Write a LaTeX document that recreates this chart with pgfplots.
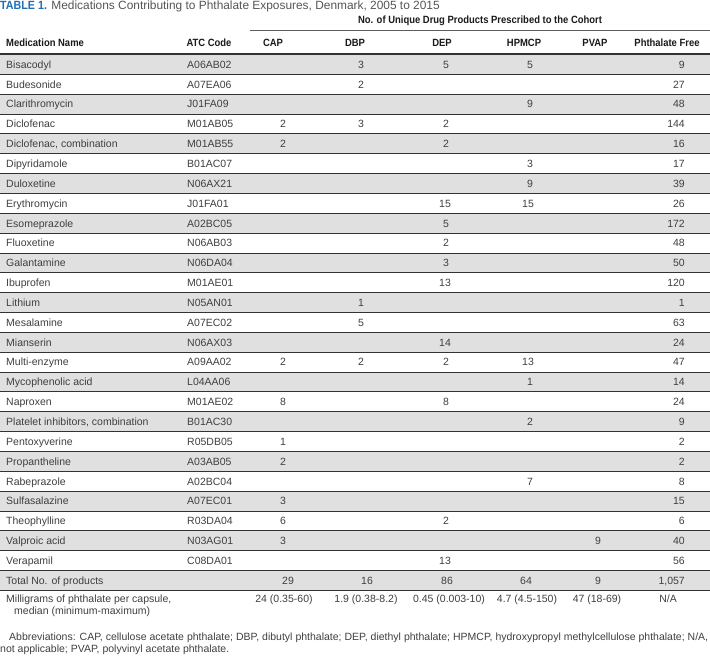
\documentclass[border=0pt]{standalone}
\usepackage{fontspec}
\setmainfont{Liberation Sans}
\newfontfamily\hdr{Liberation Sans}[FakeStretch=0.9]
\usepackage{pgfplots}
\pgfplotsset{compat=1.18}
\definecolor{txt}{HTML}{3F3F3F}
\definecolor{hd}{HTML}{1A1A1A}
\definecolor{band}{HTML}{E0E0E0}
\definecolor{rulec}{HTML}{333333}
\definecolor{tblue}{HTML}{1F6DB5}
\definecolor{ttl}{HTML}{555555}
\newcommand{\bodyfont}{\fontsize{10.5bp}{12bp}\selectfont}
\newcommand{\hdfont}{\hdr\bfseries\fontsize{10.5bp}{12bp}\selectfont}
\tikzset{cell/.style={font=\bodyfont, text=txt, inner sep=0pt, text height=7.6bp, text depth=0pt},
  hcell/.style={font=\hdfont, text=hd, inner sep=0pt, text height=7.6bp, text depth=0pt}}
\pgfplotsset{tab/.style={draw=none, mark=none, nodes near coords, point meta=explicit symbolic,
  every node near coord/.append style={cell, anchor=#1}}}
\begin{document}
\begin{tikzpicture}
\begin{axis}[width=710bp, height=658bp, scale only axis,
  xmin=0, xmax=710, ymin=-3.2443, ymax=29.9043, y dir=reverse,
  hide axis, clip=false]
% row bands
\pgfplotsinvokeforeach{0,2,...,26}{
  \fill[band] (axis cs:0,{#1-0.5}) rectangle (axis cs:710,{#1+0.5});
}
% row rules
\pgfplotsinvokeforeach{0,...,26}{
  \draw[rulec, line width=0.9bp] (axis cs:0,{#1+0.5}) -- (axis cs:710,{#1+0.5});
}
\draw[rulec, line width=2bp] (axis cs:0,-0.549) -- (axis cs:710,-0.549);
\draw[rulec!80, line width=1bp] (axis cs:250,-1.703) -- (axis cs:710,-1.703);
% title and headers
\node[anchor=west, inner sep=0pt, font=\fontsize{11.9bp}{13bp}\selectfont, text=ttl] at (axis cs:0,-2.93)
  {{\hdr\bfseries\color{tblue}TABLE 1.} Medications Contributing to Phthalate Exposures, Denmark, 2005 to 2015};
\node[hcell, anchor=center] at (axis cs:480,-2.237) {No. of Unique Drug Products Prescribed to the Cohort};
\node[hcell, anchor=west] at (axis cs:6,-1.078) {Medication Name};
\node[hcell, anchor=center] at (axis cs:209,-1.078) {ATC Code};
\node[hcell, anchor=center] at (axis cs:273,-1.078) {CAP};
\node[hcell, anchor=center] at (axis cs:355,-1.078) {DBP};
\node[hcell, anchor=center] at (axis cs:442,-1.078) {DEP};
\node[hcell, anchor=center] at (axis cs:524,-1.078) {HPMCP};
\node[hcell, anchor=center] at (axis cs:595,-1.078) {PVAP};
\node[hcell, anchor=center] at (axis cs:667,-1.078) {Phthalate Free};
% medication names
\addplot[tab=west] coordinates {
 (6,0) [Bisacodyl] (6,1) [Budesonide] (6,2) [Clarithromycin] (6,3) [Diclofenac]
 (6,4) [Diclofenac, combination] (6,5) [Dipyridamole] (6,6) [Duloxetine]
 (6,7) [Erythromycin] (6,8) [Esomeprazole] (6,9) [Fluoxetine] (6,10) [Galantamine]
 (6,11) [Ibuprofen] (6,12) [Lithium] (6,13) [Mesalamine] (6,14) [Mianserin]
 (6,15) [Multi-enzyme] (6,16) [Mycophenolic acid] (6,17) [Naproxen]
 (6,18) [Platelet inhibitors, combination] (6,19) [Pentoxyverine] (6,20) [Propantheline]
 (6,21) [Rabeprazole] (6,22) [Sulfasalazine] (6,23) [Theophylline] (6,24) [Valproic acid]
 (6,25) [Verapamil] (6,26) [Total No. of products]
 (6,26.93) [Milligrams of phthalate per capsule,] (14,27.536) [median (minimum-maximum)]
};
% ATC codes
\addplot[tab=west] coordinates {
 (187,0) [A06AB02] (187,1) [A07EA06] (187,2) [J01FA09] (187,3) [M01AB05]
 (187,4) [M01AB55] (187,5) [B01AC07] (187,6) [N06AX21] (187,7) [J01FA01]
 (187,8) [A02BC05] (187,9) [N06AB03] (187,10) [N06DA04] (187,11) [M01AE01]
 (187,12) [N05AN01] (187,13) [A07EC02] (187,14) [N06AX03] (187,15) [A09AA02]
 (187,16) [L04AA06] (187,17) [M01AE02] (187,18) [B01AC30] (187,19) [R05DB05]
 (187,20) [A03AB05] (187,21) [A02BC04] (187,22) [A07EC01] (187,23) [R03DA04]
 (187,24) [N03AG01] (187,25) [C08DA01]
};
% CAP
\addplot[tab=center] coordinates {
 (283,3) [2] (283,4) [2] (283,15) [2] (283,17) [8] (283,19) [1] (283,20) [2]
 (283,22) [3] (283,23) [6] (283,24) [3] (288,26) [29] (284,26.93) [24 (0.35-60)]
};
% DBP
\addplot[tab=center] coordinates {
 (361,0) [3] (361,1) [2] (361,3) [3] (361,12) [1] (361,13) [5] (361,15) [2]
 (367,26) [16] (366,26.93) [1.9 (0.38-8.2)]
};
% DEP
\addplot[tab=center] coordinates {
 (446,0) [5] (446,3) [2] (446,4) [2] (445,7) [15] (446,8) [5] (446,9) [2]
 (446,10) [3] (445,11) [13] (445,14) [14] (446,15) [2] (446,17) [8] (446,23) [2]
 (445,25) [13] (447,26) [86] (449,26.93) [0.45 (0.003-10)]
};
% HPMCP
\addplot[tab=center] coordinates {
 (530,0) [5] (530,2) [9] (530,5) [3] (530,6) [9] (528,7) [15] (528,15) [13]
 (530,16) [1] (530,18) [2] (530,21) [7] (526,26) [64] (527,26.93) [4.7 (4.5-150)]
};
% PVAP
\addplot[tab=center] coordinates {
 (598,24) [9] (598,26) [9] (597,26.93) [47 (18-69)]
};
% Phthalate free
\addplot[tab=east] coordinates {
 (685,0) [9] (685,1) [27] (685,2) [48] (685,3) [144] (685,4) [16] (685,5) [17]
 (685,6) [39] (685,7) [26] (685,8) [172] (685,9) [48] (685,10) [50] (685,11) [120]
 (685,12) [1] (685,13) [63] (685,14) [24] (685,15) [47] (685,16) [14] (685,17) [24]
 (685,18) [9] (685,19) [2] (685,20) [2] (685,21) [8] (685,22) [15] (685,23) [6]
 (685,24) [40] (685,25) [56] (685,26) [{1,057}]
};
\addplot[tab=center] coordinates {(668,26.93) [N/A]};
% footnote
\node[anchor=west, inner sep=0pt, font=\fontsize{10.5bp}{12bp}\selectfont, text=txt] at (axis cs:9,28.9)
 {\makebox[699bp][s]{Abbreviations: CAP, cellulose acetate phthalate; DBP, dibutyl phthalate; DEP, diethyl phthalate; HPMCP, hydroxypropyl methylcellulose phthalate; N/A,}};
\node[anchor=west, inner sep=0pt, font=\fontsize{10.5bp}{12bp}\selectfont, text=txt] at (axis cs:0,29.5)
 {not applicable; PVAP, polyvinyl acetate phthalate.};
\end{axis}
\pgfresetboundingbox
\path[use as bounding box] (current axis.south west) rectangle (current axis.north east);
\end{tikzpicture}
\end{document}
